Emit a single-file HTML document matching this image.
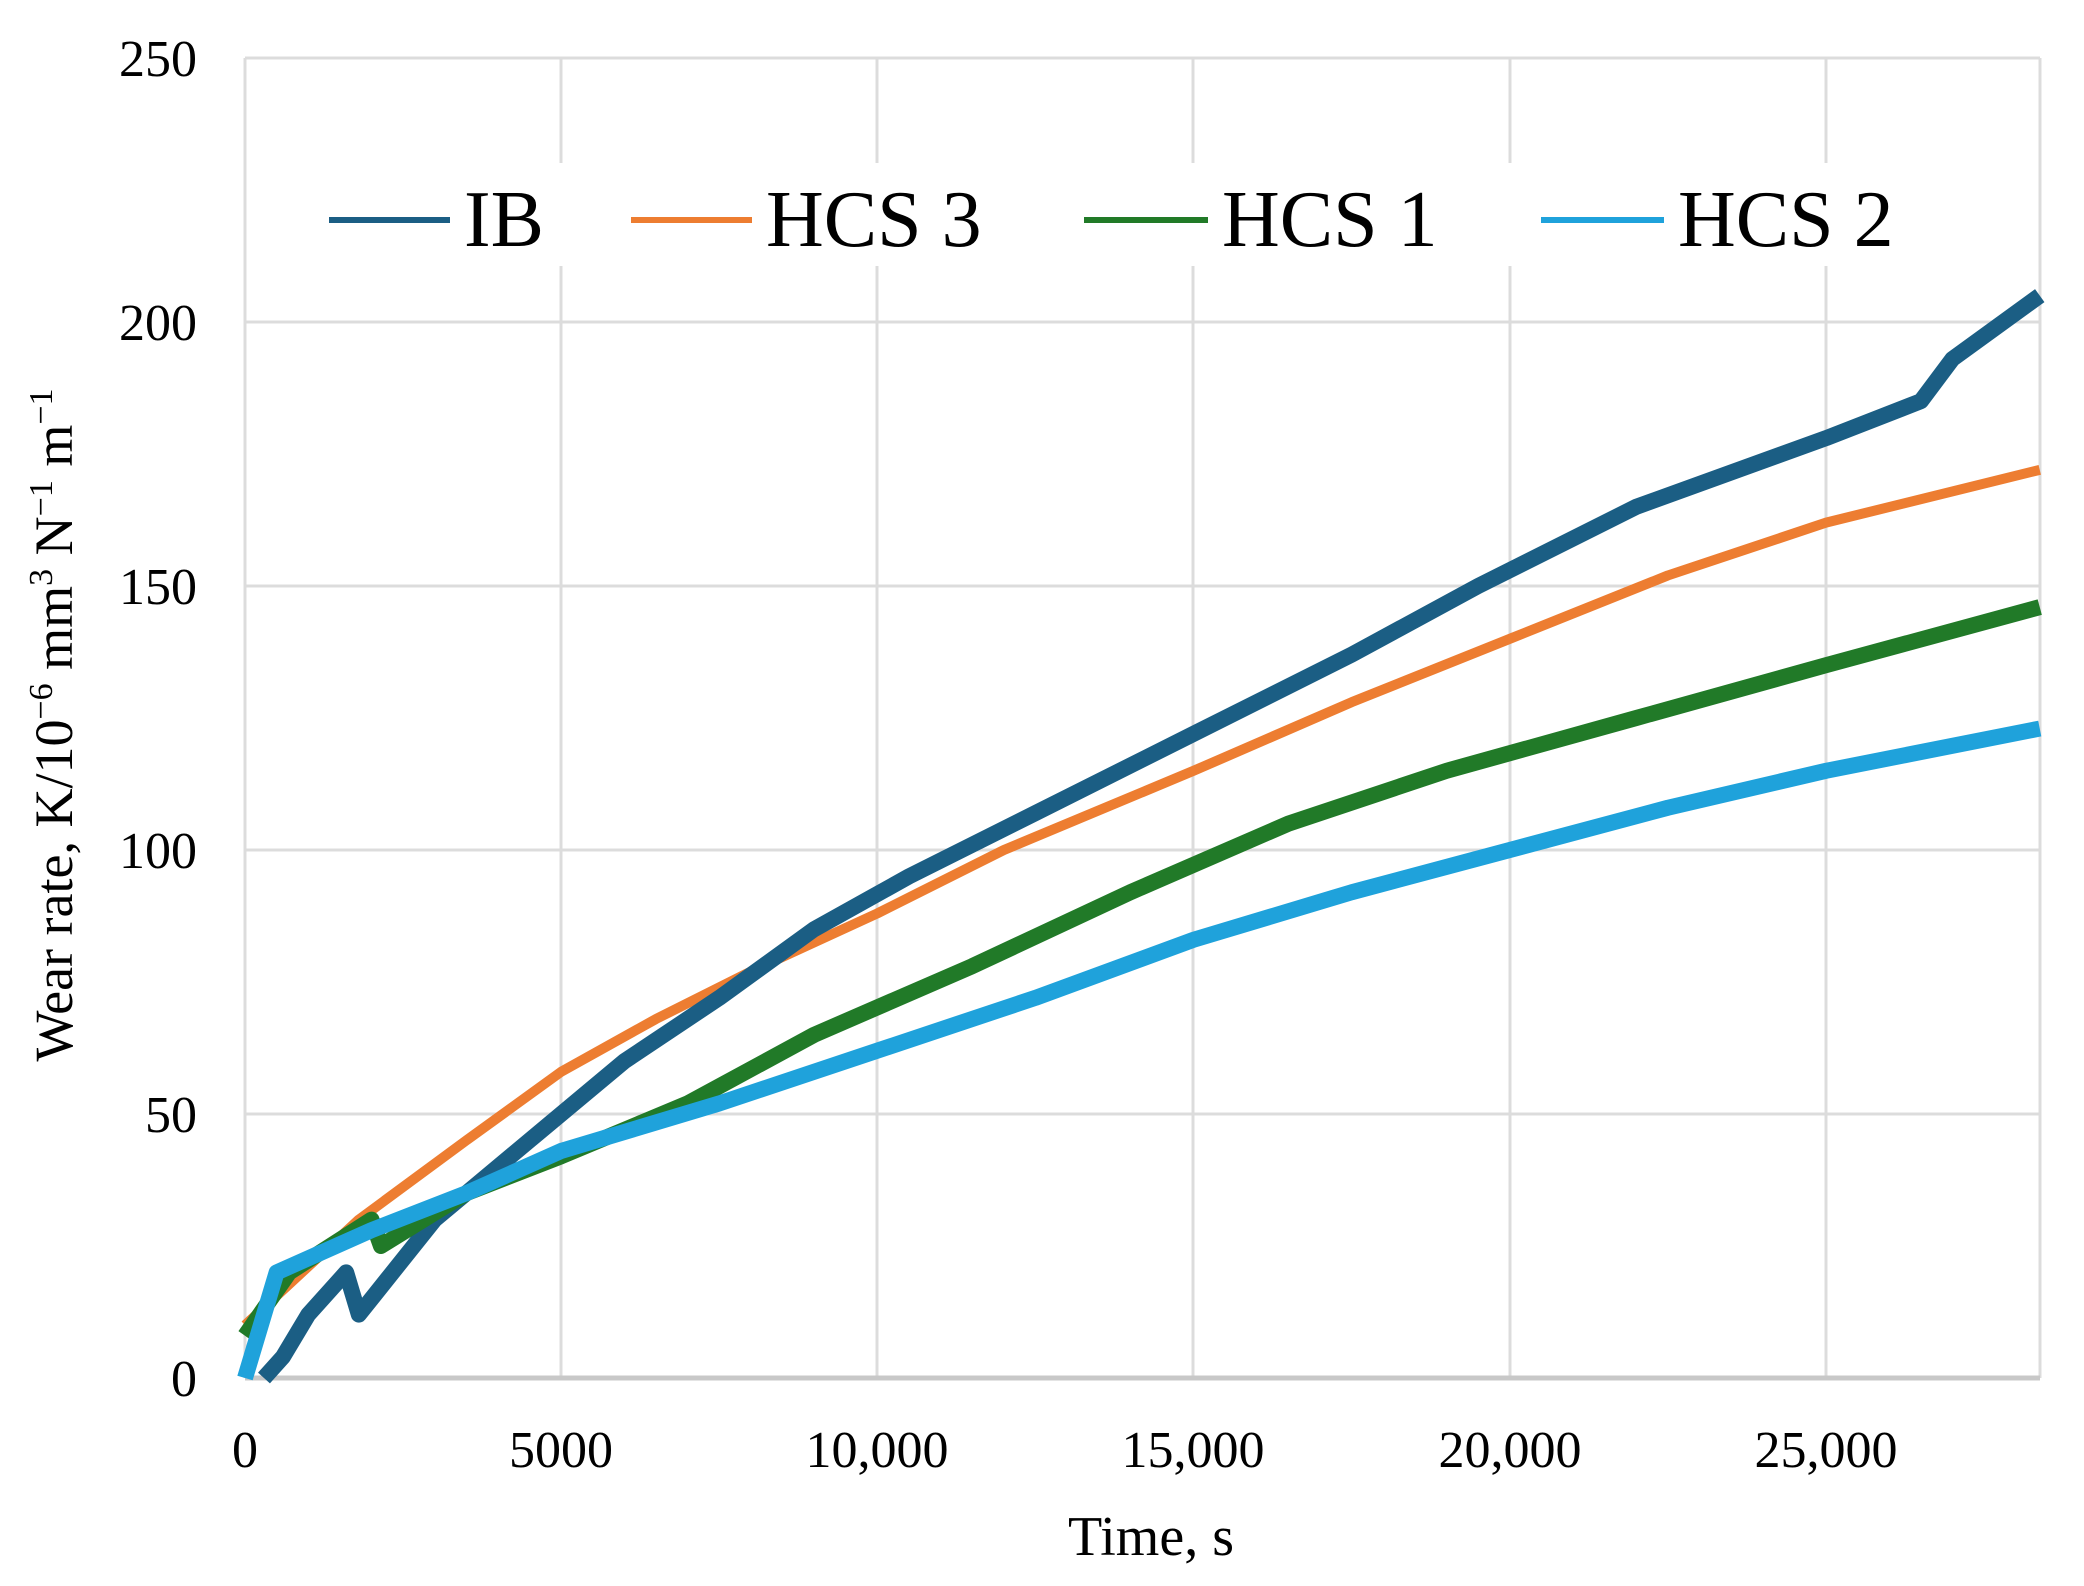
<!DOCTYPE html>
<html><head><style>body{margin:0;background:#fff}svg{display:block}</style></head><body>
<svg width="2084" height="1586" xmlns="http://www.w3.org/2000/svg" font-family="Liberation Serif, serif">
<rect width="2084" height="1586" fill="#fff"/>
<g stroke="#dcdcdc" stroke-width="3">
<line x1="245" y1="58" x2="2040" y2="58"/>
<line x1="245" y1="322" x2="2040" y2="322"/>
<line x1="245" y1="586" x2="2040" y2="586"/>
<line x1="245" y1="850" x2="2040" y2="850"/>
<line x1="245" y1="1114" x2="2040" y2="1114"/>
<line x1="245" y1="58" x2="245" y2="1378"/>
<line x1="561" y1="58" x2="561" y2="1378"/>
<line x1="877" y1="58" x2="877" y2="1378"/>
<line x1="1193" y1="58" x2="1193" y2="1378"/>
<line x1="1510" y1="58" x2="1510" y2="1378"/>
<line x1="1826" y1="58" x2="1826" y2="1378"/>
<line x1="2040" y1="58" x2="2040" y2="1378"/>
</g>
<line x1="245" y1="1378" x2="2040" y2="1378" stroke="#c8c8c8" stroke-width="5"/>
<rect x="300" y="163" width="1660" height="103" fill="#fff"/>
<g transform="translate(245,1378) scale(0.06324,-5.28)" fill="none" stroke-linejoin="round">
<polyline vector-effect="non-scaling-stroke" stroke="#ed7d31" stroke-width="10" points="0,10 1800,30 3500,45 5000,58 6500,68 8000,77 10000,88 12000,100 15000,115 17500,128 20000,140 22500,152 25000,162 28380,172"/>
<polyline vector-effect="non-scaling-stroke" stroke="#1b5e84" stroke-width="16" points="300,0 600,4 1000,12 1600,20 1800,12 3000,30 4500,45 6000,60 7500,72 9000,85 10500,95 12500,107 15000,122 17500,137 19500,150 22000,165 25000,178 26500,185 27000,193 28380,205"/>
<polyline vector-effect="non-scaling-stroke" stroke="#217a28" stroke-width="16" points="0,8 700,20 2000,30 2150,25 3500,35 5000,42 7000,52 9000,65 11500,78 14000,92 16500,105 19000,115 22000,125 25000,135 28380,146"/>
<polyline vector-effect="non-scaling-stroke" stroke="#1fa2db" stroke-width="16" points="0,0 500,20 2000,28 3500,35 5000,43 7500,52 10000,62 12500,72 15000,83 17500,92 20000,100 22500,108 25000,115 28380,123"/>
</g>
<g stroke-width="6">
<line x1="329" y1="220" x2="450" y2="220" stroke="#1b5e84"/>
<line x1="631" y1="220" x2="752" y2="220" stroke="#ed7d31"/>
<line x1="1084" y1="220" x2="1208" y2="220" stroke="#217a28"/>
<line x1="1541" y1="220" x2="1664" y2="220" stroke="#1fa2db"/>
</g>
<g font-size="80" fill="#000">
<text x="464" y="246">IB</text>
<text x="766" y="246">HCS 3</text>
<text x="1222" y="246">HCS 1</text>
<text x="1678" y="246">HCS 2</text>
</g>
<g font-size="52" text-anchor="end" fill="#000">
<text x="197" y="1396">0</text>
<text x="197" y="1132">50</text>
<text x="197" y="868">100</text>
<text x="197" y="604">150</text>
<text x="197" y="340">200</text>
<text x="197" y="76">250</text>
</g>
<g font-size="52" text-anchor="middle" fill="#000">
<text x="245" y="1467">0</text>
<text x="561" y="1467">5000</text>
<text x="877" y="1467">10,000</text>
<text x="1193" y="1467">15,000</text>
<text x="1510" y="1467">20,000</text>
<text x="1826" y="1467">25,000</text>
</g>
<text x="1151" y="1555" font-size="56" text-anchor="middle">Time, s</text>
<text transform="translate(72,725) rotate(-90)" font-size="54" text-anchor="middle">Wear rate, K/10<tspan font-size="34" dy="-20">−6</tspan><tspan dy="20"> mm</tspan><tspan font-size="34" dy="-20">3</tspan><tspan dy="20"> N</tspan><tspan font-size="34" dy="-20">−1</tspan><tspan dy="20"> m</tspan><tspan font-size="34" dy="-20">−1</tspan></text>
</svg>
</body></html>
